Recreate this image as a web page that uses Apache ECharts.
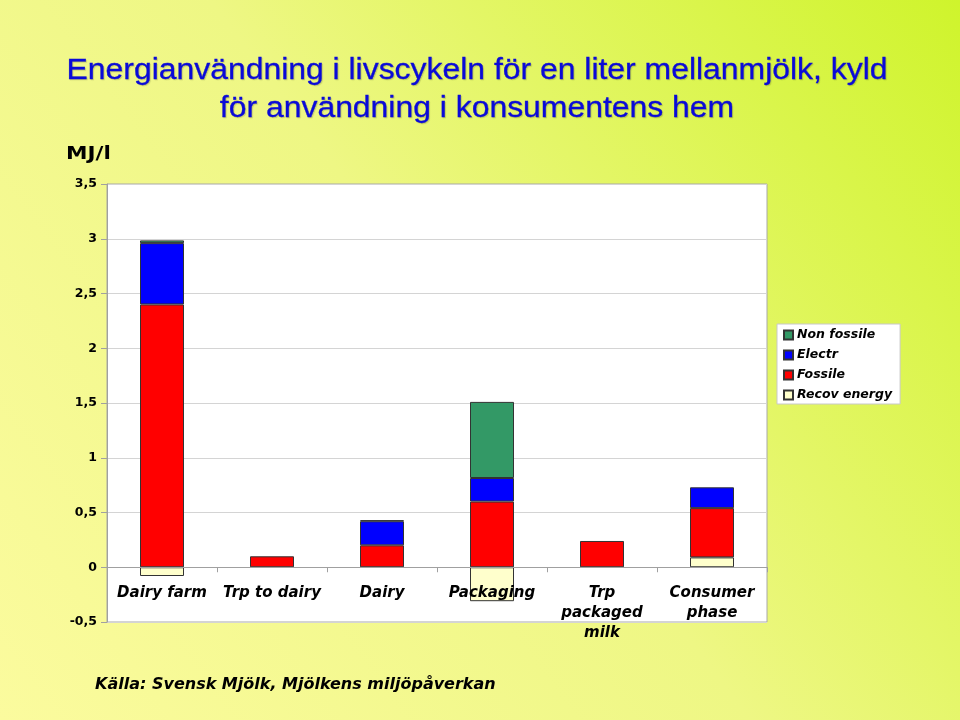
<!DOCTYPE html>
<html>
<head>
<meta charset="utf-8">
<script src="https://cdn.jsdelivr.net/npm/echarts@6/dist/echarts.min.js"></script>
<style>html,body{margin:0;padding:0;}#c{width:960px;height:720px;}</style>
</head>
<body>
<div id="c"></div>
<script>
var categories = ['Dairy farm', 'Trp to dairy', 'Dairy', 'Packaging', 'Trp\npackaged\nmilk', 'Consumer\nphase'];
var recovEnergy = [-0.08, null, null, -0.31, null, 0.09];
var fossile = [2.4, 0.1, 0.2, 0.6, 0.24, 0.45];
var electr = [0.56, null, 0.22, 0.215, null, 0.19];
var nonFossile = [0.025, null, 0.01, 0.695, null, null];
var yTicks = [-0.5, 0, 0.5, 1, 1.5, 2, 2.5, 3, 3.5];
var legendOrder = ['Non fossile', 'Electr', 'Fossile', 'Recov energy'];

var chart = echarts.init(document.getElementById('c'));
var lab = {fontFamily: 'DejaVu Sans', fontWeight: 'bold', fontStyle: 'italic', color: '#000'};
function bar(name, data, color) {
  return {name: name, type: 'bar', stack: 'total', data: data, barWidth: 44,
    itemStyle: {color: color, borderColor: '#333', borderWidth: 1}};
}
chart.setOption({
  animation: false,
  backgroundColor: new echarts.graphic.LinearGradient(0, 1, 1, 0, [
    {offset: 0, color: '#fbfb9e'}, {offset: 0.5, color: '#eef784'}, {offset: 1, color: '#cff42c'}]),
  graphic: [
    {type: 'text', x: 477, y: 52, scaleX: 1.1, style: {text: 'Energianvändning i livscykeln för en liter mellanmjölk, kyld\nför användning i konsumentens hem',
      textAlign: 'center', textVerticalAlign: 'top', font: '29px "Liberation Sans", Arial', fill: '#0a0ad8', lineHeight: 38,
      stroke: '#0a0ad8', lineWidth: 0.3,
      textShadowColor: 'rgba(0,0,0,0.15)', textShadowOffsetX: 1, textShadowOffsetY: 1, textShadowBlur: 1}},
    {type: 'text', x: 66, y: 145, scaleX: 1.2, style: {text: 'MJ/l', font: 'bold 18px "DejaVu Sans"', fill: '#000'}},
    {type: 'text', x: 95, y: 677, style: {text: 'Källa: Svensk Mjölk, Mjölkens miljöpåverkan', font: 'italic bold 16px "DejaVu Sans"', fill: '#000'}}
  ],
  grid: {left: 107, top: 184, width: 660, height: 438, show: true, backgroundColor: '#fff', borderColor: '#a8a8a8', borderWidth: 1},
  legend: {data: legendOrder, orient: 'vertical', left: 777, top: 324, backgroundColor: '#fff', borderColor: '#c8c8c8', borderWidth: 1,
    padding: [4, 8, 2, 6], itemWidth: 9, itemHeight: 9, itemGap: 6, icon: 'rect',
    textStyle: {fontFamily: 'DejaVu Sans', fontWeight: 'bold', fontStyle: 'italic', fontSize: 12.5, lineHeight: 14, color: '#000', padding: [0, 0, 0, -1]}},
  xAxis: {type: 'category', data: categories, z: 5, position: 'bottom', offset: -54.75,
    axisLine: {onZero: false, lineStyle: {color: '#a0a0a0'}},
    axisTick: {show: true, length: 5, lineStyle: {color: '#a0a0a0'}},
    axisLabel: Object.assign({fontSize: 15, margin: 16, lineHeight: 20, interval: 0}, lab)},
  yAxis: {type: 'value', min: -0.5, max: 3.5, interval: 0.5,
    axisLine: {show: true, lineStyle: {color: '#a0a0a0'}},
    axisTick: {show: true, length: 6, lineStyle: {color: '#a0a0a0'}},
    splitLine: {lineStyle: {color: '#d4d4d4'}},
    axisLabel: {margin: 10, fontFamily: 'DejaVu Sans', fontWeight: 'bold', fontSize: 12.5, color: '#000',
      formatter: function (v) { return yTicks.indexOf(v) >= 0 ? String(v).replace('.', ',') : ''; }}},
  series: [
    bar('Recov energy', recovEnergy, '#ffffcc'),
    bar('Fossile', fossile, '#ff0000'),
    bar('Electr', electr, '#0000ff'),
    bar('Non fossile', nonFossile, '#339966')
  ]
});
</script>
</body>
</html>
